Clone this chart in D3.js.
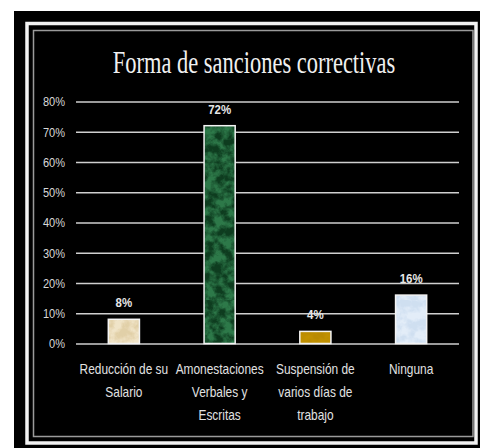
<!DOCTYPE html>
<html>
<head>
<meta charset="utf-8">
<script src="https://cdn.jsdelivr.net/npm/d3@7"></script>
<style>
  html, body { margin: 0; padding: 0; background: #ffffff; }
  svg { display: block; }
</style>
</head>
<body>
<div id="chart"></div>
<script>
// ---- data ----
const categories = ["Reducción de su Salario", "Amonestaciones Verbales y Escritas", "Suspensión de varios días de trabajo", "Ninguna"];
const categoryLines = [["Reducción de su", "Salario"], ["Amonestaciones", "Verbales y", "Escritas"], ["Suspensión de", "varios días de", "trabajo"], ["Ninguna"]];
const values = [0.08, 0.72, 0.04, 0.16];
const valueLabels = ["8%", "72%", "4%", "16%"];
const yTicks = [0, 0.1, 0.2, 0.3, 0.4, 0.5, 0.6, 0.7, 0.8];
const title = "Forma de sanciones correctivas";

const W = 480, H = 448;
const svg = d3.select("#chart").append("svg").attr("width", W).attr("height", H);

// ---- textures ----
const defs = svg.append("defs");
function texture(id, dark, light, freq, seed) {
  const f = defs.append("filter").attr("id", "f" + id).attr("x", 0).attr("y", 0)
    .attr("width", 1).attr("height", 1).attr("color-interpolation-filters", "sRGB");
  f.append("feTurbulence").attr("type", "fractalNoise").attr("baseFrequency", freq)
    .attr("numOctaves", 4).attr("seed", seed).attr("result", "n");
  f.append("feColorMatrix").attr("type", "matrix")
    .attr("values", "1 0 0 0 0  1 0 0 0 0  1 0 0 0 0  0 0 0 0 1").attr("result", "g");
  const c1 = d3.rgb(dark), c2 = d3.rgb(light);
  const tv = k => [c1[k], c1[k], c2[k], c2[k]].map(v => (v / 255).toFixed(3)).join(" ");
  const tr = f.append("feComponentTransfer").attr("in", "g");
  tr.append("feFuncR").attr("type", "table").attr("tableValues", tv("r"));
  tr.append("feFuncG").attr("type", "table").attr("tableValues", tv("g"));
  tr.append("feFuncB").attr("type", "table").attr("tableValues", tv("b"));
  const p = defs.append("pattern").attr("id", "p" + id).attr("patternUnits", "userSpaceOnUse")
    .attr("width", 80).attr("height", 300);
  p.append("rect").attr("width", 80).attr("height", 300).attr("fill", dark);
  p.append("rect").attr("width", 80).attr("height", 300).attr("filter", "url(#f" + id + ")");
}
texture("0", "#f1e5c9", "#e2d0a8", 0.1, 3);
texture("1", "#0e3d20", "#2e7a4a", 0.11, 7);
texture("2", "#c29200", "#ba8b00", 0.1, 2);
texture("3", "#e4eef9", "#cfdff1", 0.1, 5);

// ---- frame ----
svg.append("rect").attr("x", 14).attr("y", 11).attr("width", W - 14).attr("height", H - 11).attr("fill", "#000");
svg.append("rect").attr("x", 27).attr("y", 23.5).attr("width", 449).attr("height", 419.5)
  .attr("fill", "none").attr("stroke", "#f2f2f2").attr("stroke-width", 3.5);
svg.append("rect").attr("x", 33.5).attr("y", 30.5).attr("width", 439.5).attr("height", 406)
  .attr("fill", "none").attr("stroke", "#9a9a9a").attr("stroke-width", 1.5);

// ---- title ----
svg.append("g").attr("transform", "translate(254,73) scale(0.725,1)")
  .append("text").attr("x", 0).attr("y", 0).attr("text-anchor", "middle")
  .attr("font-family", "'Liberation Serif', 'Times New Roman', serif").attr("font-size", 31)
  .attr("fill", "#f0f0f0")
  .text(title);

// ---- scales ----
const x = d3.scaleBand().domain(categories).range([76, 459]).paddingInner(0.675).paddingOuter(0.3375);
const y = d3.scaleLinear().domain([0, 0.8]).range([343.5, 101.5]);

const font = "'Liberation Sans', Arial, sans-serif";
const sx = 0.85;

// gridlines + y axis
const yAxis = d3.axisLeft(y).tickValues(yTicks).tickFormat(d3.format(".0%"))
  .tickSize(-(459 - 76)).tickPadding(0);
const gy = svg.append("g").attr("transform", "translate(76,0)").call(yAxis);
gy.select(".domain").remove();
gy.selectAll(".tick line").attr("stroke", "#cfcfcf").attr("stroke-width", 1.6);
gy.selectAll(".tick text")
  .attr("x", 0).attr("dy", "0.34em")
  .attr("transform", `translate(-11,0) scale(${sx},1)`)
  .attr("fill", "#d8d8d8").attr("font-family", font).attr("font-size", 13);

// bars
svg.append("g").selectAll("rect").data(values).join("rect")
  .attr("x", (d, i) => x(categories[i]))
  .attr("y", d => y(d))
  .attr("width", x.bandwidth())
  .attr("height", d => y(0) - y(d))
  .attr("fill", (d, i) => "url(#p" + i + ")")
  .attr("stroke", "#f4f4f4").attr("stroke-width", 1.5);

// value labels
svg.append("g").selectAll("g").data(values).join("g")
  .attr("transform", (d, i) => `translate(${x(categories[i]) + x.bandwidth() / 2},${y(d) - 12}) scale(${sx},1)`)
  .append("text")
  .attr("text-anchor", "middle")
  .attr("font-family", font).attr("font-size", 13.5).attr("font-weight", "bold")
  .attr("fill", "#e6e6e6")
  .text((d, i) => valueLabels[i]);

// category labels
const xl = svg.append("g").selectAll("g").data(categoryLines).join("g")
  .attr("transform", (d, i) => `translate(${x(categories[i]) + x.bandwidth() / 2},374) scale(${sx},1)`)
  .append("text")
  .attr("text-anchor", "middle")
  .attr("font-family", font).attr("font-size", 14).attr("fill", "#e2e2e2");
xl.each(function (lines) {
  const t = d3.select(this);
  lines.forEach((ln, j) => {
    t.append("tspan").attr("x", 0).attr("y", j * 23).text(ln);
  });
});
</script>
</body>
</html>
